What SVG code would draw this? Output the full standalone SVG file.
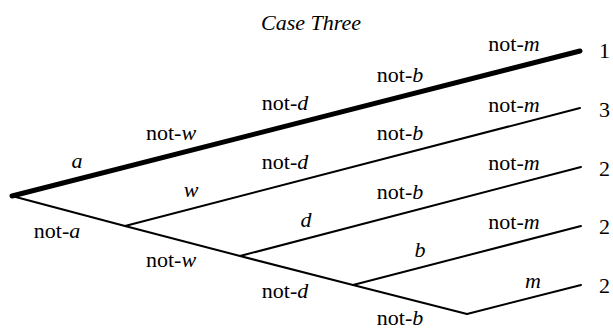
<svg xmlns="http://www.w3.org/2000/svg" width="613" height="329" viewBox="0 0 613 329">
<style>
text{font-family:"Liberation Serif","Times New Roman",serif;font-size:22px;fill:#000}
.c{text-anchor:middle}
.i{font-style:italic}
.thin{stroke:#000;stroke-width:2;fill:none;stroke-linecap:round}
.thick{stroke:#000;stroke-width:5;fill:none;stroke-linecap:round}
</style>
<rect width="613" height="329" fill="#fff"/>
<text id="title" class="c i" x="311" y="30">Case Three</text>
<g id="connectors">
<line class="thick" x1="12" y1="196" x2="580" y2="51"/>
<polyline class="thin" points="12,196 125,226 240,256 353,285 467,314"/>
<line class="thin" x1="125" y1="226" x2="580" y2="108"/>
<line class="thin" x1="240" y1="256" x2="581" y2="167"/>
<line class="thin" x1="353" y1="285" x2="581" y2="226"/>
<line class="thin" x1="467" y1="314" x2="581" y2="285"/>
</g>
<g id="labels">
<text class="c" x="514" y="51">not-<tspan class="i">m</tspan></text>
<text class="c" x="400" y="82">not-<tspan class="i">b</tspan></text>
<text class="c" x="285" y="110">not-<tspan class="i">d</tspan></text>
<text class="c" x="171" y="140">not-<tspan class="i">w</tspan></text>
<text class="c i" x="77" y="168">a</text>
<text class="c" x="514" y="112">not-<tspan class="i">m</tspan></text>
<text class="c" x="400" y="140">not-<tspan class="i">b</tspan></text>
<text class="c" x="285" y="169">not-<tspan class="i">d</tspan></text>
<text class="c i" x="191" y="197">w</text>
<text class="c" x="57" y="238">not-<tspan class="i">a</tspan></text>
<text class="c" x="514" y="170">not-<tspan class="i">m</tspan></text>
<text class="c" x="400" y="199">not-<tspan class="i">b</tspan></text>
<text class="c i" x="306" y="227">d</text>
<text class="c" x="171" y="267">not-<tspan class="i">w</tspan></text>
<text class="c" x="514" y="229">not-<tspan class="i">m</tspan></text>
<text class="c i" x="420" y="257">b</text>
<text class="c" x="285" y="298">not-<tspan class="i">d</tspan></text>
<text class="c i" x="533" y="288">m</text>
<text class="c" x="400" y="325">not-<tspan class="i">b</tspan></text>
</g>
<g id="outcomes">
<text x="599" y="58">1</text>
<text x="599" y="117">3</text>
<text x="599" y="176">2</text>
<text x="599" y="234">2</text>
<text x="599" y="293">2</text>
</g>
</svg>
